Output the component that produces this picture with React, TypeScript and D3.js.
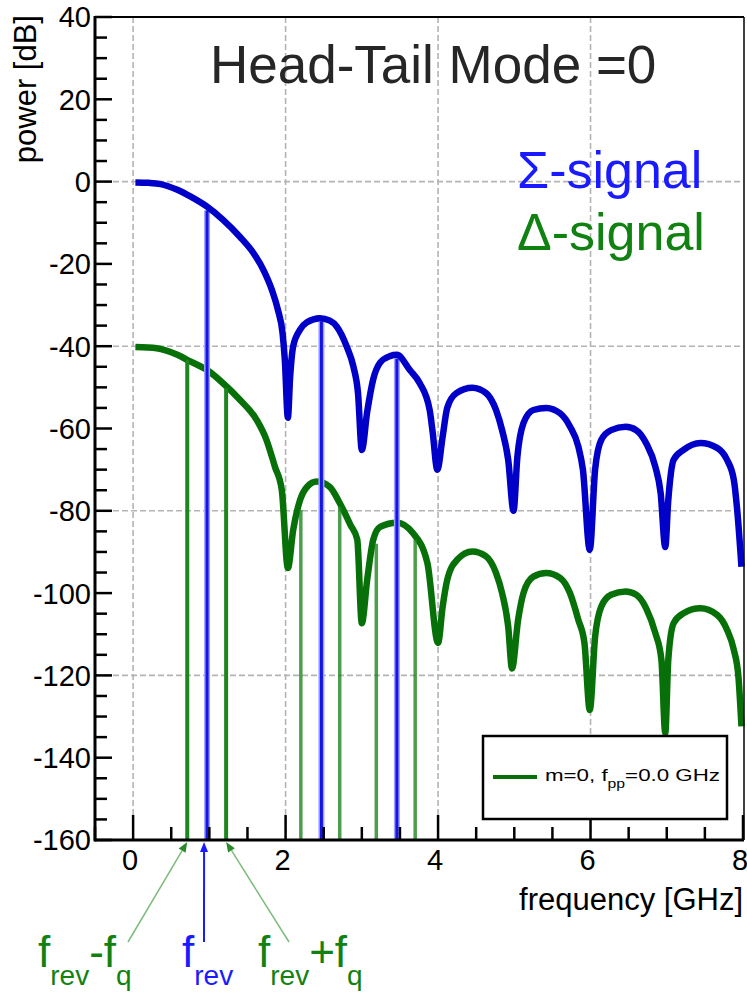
import React from "react";
import * as d3 from "d3";

// ---- data ----
const sigmaFreq = [0.03, 0.2, 0.36, 0.58, 0.75, 0.97, 1.18, 1.4, 1.58, 1.71, 1.82, 1.9, 1.96, 1.99, 2.03,
  2.06, 2.1, 2.19, 2.28, 2.45, 2.58, 2.67, 2.8, 2.89, 2.95, 3.0,
  3.07, 3.15, 3.24, 3.37, 3.46, 3.63, 3.76, 3.89, 3.93, 3.99,
  4.06, 4.12, 4.24, 4.45, 4.63, 4.76, 4.84, 4.92, 4.99,
  5.04, 5.12, 5.25, 5.42, 5.6, 5.73, 5.84, 5.9, 5.99,
  6.06, 6.14, 6.27, 6.46, 6.6, 6.73, 6.85, 6.92, 6.98,
  7.02, 7.09, 7.22, 7.44, 7.66, 7.79, 7.88, 7.92, 7.98];
const sigmaPower = [-0.2, -0.3, -0.6, -2.0, -3.6, -6.1, -9.3, -13.4, -17.4, -21.5, -26.3, -31.2, -36.8, -43.3, -57.4,
  -47.4, -40, -36, -34.2, -33.2, -33.8, -35.2, -40, -45, -51.4, -65.2,
  -56, -48, -44, -42.4, -42.1, -45.8, -49, -55.5, -61, -70,
  -62, -55, -51.4, -50.1, -51.4, -55.5, -60.4, -67.6, -80,
  -67, -58.7, -55.5, -55, -56.3, -59.5, -64.4, -70, -89.5,
  -70, -62.8, -60.4, -59.6, -60.4, -63.6, -69.3, -75.7, -88.8,
  -77.4, -67.6, -65.2, -63.5, -64.7, -67.6, -72.5, -79, -93.6];

const deltaFreq = [0.03, 0.31, 0.58, 0.75, 0.97, 1.18, 1.4, 1.62, 1.75, 1.86, 1.95, 2.03,
  2.1, 2.19, 2.28, 2.41, 2.58, 2.71, 2.85, 2.94, 3.0,
  3.07, 3.15, 3.24, 3.46, 3.67, 3.86, 4.0,
  4.06, 4.12, 4.25, 4.45, 4.63, 4.76, 4.84, 4.92, 4.97,
  5.05, 5.12, 5.25, 5.42, 5.6, 5.73, 5.84, 5.92, 5.99,
  6.06, 6.14, 6.27, 6.46, 6.6, 6.73, 6.85, 6.93, 6.98,
  7.02, 7.09, 7.22, 7.44, 7.66, 7.79, 7.88, 7.94, 7.98];
const deltaPower = [-40.2, -40.5, -42.1, -43.7, -45.8, -49, -53, -57.9, -62.8, -69.3, -74.9, -93.9,
  -84.6, -77.4, -74.2, -72.9, -74.2, -78.1, -83.4, -87, -107.3,
  -96.8, -87, -83.9, -82.9, -85.4, -92.7, -112.1,
  -103.3, -96.8, -91.9, -89.9, -91.1, -95.1, -100, -108.1, -118.3,
  -106.5, -100, -96, -95.1, -96.3, -100, -106.5, -112.1, -128.4,
  -110.6, -103.3, -100.4, -99.6, -100.4, -103.7, -109.7, -116.2, -134,
  -116.2, -107.3, -104.9, -103.7, -105.3, -108.9, -113.8, -120.3, -132.4];

const revLineFreq = [0.97, 2.47, 3.46];
const revLineTop = [-7, -34, -43];
const sideLineFreq = [0.71, 1.22, 2.2, 2.71, 3.19, 3.7];
const sideLineTop = [-43.3, -50.2, -79.8, -79, -88, -87];

const yLabelTicks = [40, 20, 0, -20, -40, -60, -80, -100, -120, -140, -160];
const yGridTicks = [0, -40, -80, -120];
const xLabelTicks = [0, 2, 4, 6, 8];
const xGridTicks = [0, 2, 4, 6];

const title = "Head-Tail Mode =0";
const sigmaLabel = "Σ-signal";
const deltaLabel = "Δ-signal";
const xTitle = "frequency [GHz]";
const yTitle = "power [dB]";

// ---- styling ----
const W = 747, H = 993;
const FONT = "'Liberation Sans', Arial, sans-serif";
const BLUE_CURVE = "#0000c8";
const GREEN_CURVE = "#087008";
const BLUE_TEXT = "#1a1aff";
const GREEN_TEXT = "#118211";

export default function App() {
  const x = d3.scaleLinear().domain([-0.5, 8]).range([95, 743]);
  const y = d3.scaleLinear().domain([-160, 40]).range([840, 17]);
  const left = x(-0.5), right = x(8), top = y(40), bottom = y(-160);

  const mk = (fs: number[], ps: number[]) =>
    d3.line<number>().x((f) => x(f)).y((_, i) => y(ps[i])).curve(d3.curveMonotoneX)(fs) || "";

  const sigmaPath = mk(sigmaFreq, sigmaPower);
  const deltaPath = mk(deltaFreq, deltaPower);

  const yMinor = d3.range(-160, 40.1, 5);
  const xMinor = d3.range(-0.5, 8.01, 0.5);

  const arrowTips = [
    { f: sideLineFreq[0], x0: 128, color: "#7cbc7c", w: 1.5 },
    { f: revLineFreq[0], x0: 204, color: "#1a1aff", w: 2 },
    { f: sideLineFreq[1], x0: 289, color: "#7cbc7c", w: 1.5 },
  ];

  return (
    <svg width={W} height={H} style={{ position: "absolute", left: 0, top: 0, background: "#fff" }}
      fontFamily={FONT}>
      <rect x={0} y={0} width={W} height={H} fill="#fff" />
      {/* grid */}
      <g stroke="#b4b4b4" strokeWidth={1.6} strokeDasharray="6,3">
        {xGridTicks.map((t) => (
          <line key={"gx" + t} x1={x(t)} x2={x(t)} y1={top} y2={bottom} />
        ))}
        {yGridTicks.map((t) => (
          <line key={"gy" + t} x1={left} x2={right} y1={y(t)} y2={y(t)} />
        ))}
      </g>

      {/* texts inside the plot */}
      <text x={210} y={83} fontSize={53} fill="#262626">{title}</text>
      <text x={517} y={188} fontSize={52} fill={BLUE_TEXT}>{sigmaLabel}</text>
      <text x={517} y={250} fontSize={52} fill={GREEN_TEXT}>{deltaLabel}</text>

      {/* delta curve */}
      <path d={deltaPath} fill="none" stroke={GREEN_CURVE} strokeWidth={6.5} strokeLinejoin="round" />

      {/* sideband lines */}
      {sideLineFreq.map((f, i) => (
        <line key={"sl" + i} x1={x(f)} x2={x(f)} y1={bottom} y2={y(sideLineTop[i])}
          stroke="#1f861f" strokeWidth={i < 2 ? 4 : 3.5} strokeOpacity={i < 2 ? 1 : 0.8} />
      ))}

      {/* revolution lines */}
      {revLineFreq.map((f, i) => (
        <g key={"rl" + i}>
          <line x1={x(f)} x2={x(f)} y1={bottom} y2={y(revLineTop[i])} stroke="#a0a0ff" strokeWidth={6} />
          <line x1={x(f)} x2={x(f)} y1={bottom} y2={y(revLineTop[i])} stroke="#1414e6" strokeWidth={3} />
        </g>
      ))}

      {/* sigma curve */}
      <path d={sigmaPath} fill="none" stroke={BLUE_CURVE} strokeWidth={6.5} strokeLinejoin="round" />

      {/* ticks */}
      <g stroke="#000" strokeWidth={2.5}>
        {yMinor.map((t) => (
          <line key={"yt" + t} x1={left} x2={left + (t % 20 === 0 ? 17 : 12)} y1={y(t)} y2={y(t)} />
        ))}
        {xMinor.map((t) => (
          <line key={"xt" + t} x1={x(t)} x2={x(t)} y1={bottom} y2={bottom - (t % 2 === 0 ? 25 : 13)} />
        ))}
      </g>

      {/* frame */}
      <line x1={left} x2={right + 1} y1={top} y2={top} stroke="#000" strokeWidth={2} />
      <line x1={right + 1} x2={right + 1} y1={top} y2={bottom} stroke="#000" strokeWidth={1.5} />
      <line x1={left} x2={left} y1={top - 1} y2={bottom + 1.5} stroke="#000" strokeWidth={3} />
      <line x1={left} x2={right + 1} y1={bottom} y2={bottom} stroke="#000" strokeWidth={3} />

      {/* legend */}
      <rect x={483} y={736} width={244} height={83} fill="#fff" stroke="#000" strokeWidth={2.5} />
      <line x1={493} x2={537} y1={777} y2={777} stroke={GREEN_CURVE} strokeWidth={4} />
      <text x={545} y={781} fontSize={17} fill="#000" textLength={175} lengthAdjust="spacingAndGlyphs">
        m=0, f<tspan dy={7} fontSize={12}>pp</tspan><tspan dy={-7} fontSize={17}>=0.0 GHz</tspan>
      </text>

      {/* y tick labels */}
      {yLabelTicks.map((t) => (
        <text key={"yl" + t} x={91} y={y(t)} dy="0.36em" textAnchor="end" fontSize={29} fill="#000">{t}</text>
      ))}
      {/* x tick labels */}
      {xLabelTicks.map((t) => (
        <text key={"xl" + t} x={x(t) - 3} y={870} textAnchor="middle" fontSize={29} fill="#000">{t}</text>
      ))}

      {/* axis titles */}
      <text x={743} y={910} textAnchor="end" fontSize={31} fill="#000">{xTitle}</text>
      <text transform="translate(36,15) rotate(-90)" textAnchor="end" fontSize={31} fill="#000">{yTitle}</text>

      {/* annotation arrows */}
      {arrowTips.map((a, i) => {
        const x1 = a.x0, y1 = 942, x2 = x(a.f) - (i === 1 ? 3 : 0), y2 = bottom + 2;
        const ang = Math.atan2(y2 - y1, x2 - x1);
        const L = 10, hw = 4;
        const bx = x2 - L * Math.cos(ang), by = y2 - L * Math.sin(ang);
        const px = -Math.sin(ang) * hw, py = Math.cos(ang) * hw;
        return (
          <g key={"ar" + i}>
            <line x1={x1} y1={y1} x2={bx} y2={by} stroke={a.color} strokeWidth={a.w} />
            <polygon points={`${x2},${y2} ${bx + px},${by + py} ${bx - px},${by - py}`}
              fill={i === 1 ? a.color : "#2a8a2a"} />
          </g>
        );
      })}

      {/* annotation labels */}
      <text x={38} y={967} fontSize={44} fill={GREEN_TEXT}>
        f<tspan dy={18} fontSize={28}>rev</tspan><tspan dy={-18} fontSize={44}>-f</tspan><tspan dy={18} fontSize={28}>q</tspan>
      </text>
      <text x={182} y={967} fontSize={44} fill={BLUE_TEXT}>
        f<tspan dy={18} fontSize={28}>rev</tspan>
      </text>
      <text x={258} y={967} fontSize={44} fill={GREEN_TEXT}>
        f<tspan dy={18} fontSize={28}>rev</tspan><tspan dy={-18} fontSize={44}>+f</tspan><tspan dy={18} fontSize={28}>q</tspan>
      </text>
    </svg>
  );
}
